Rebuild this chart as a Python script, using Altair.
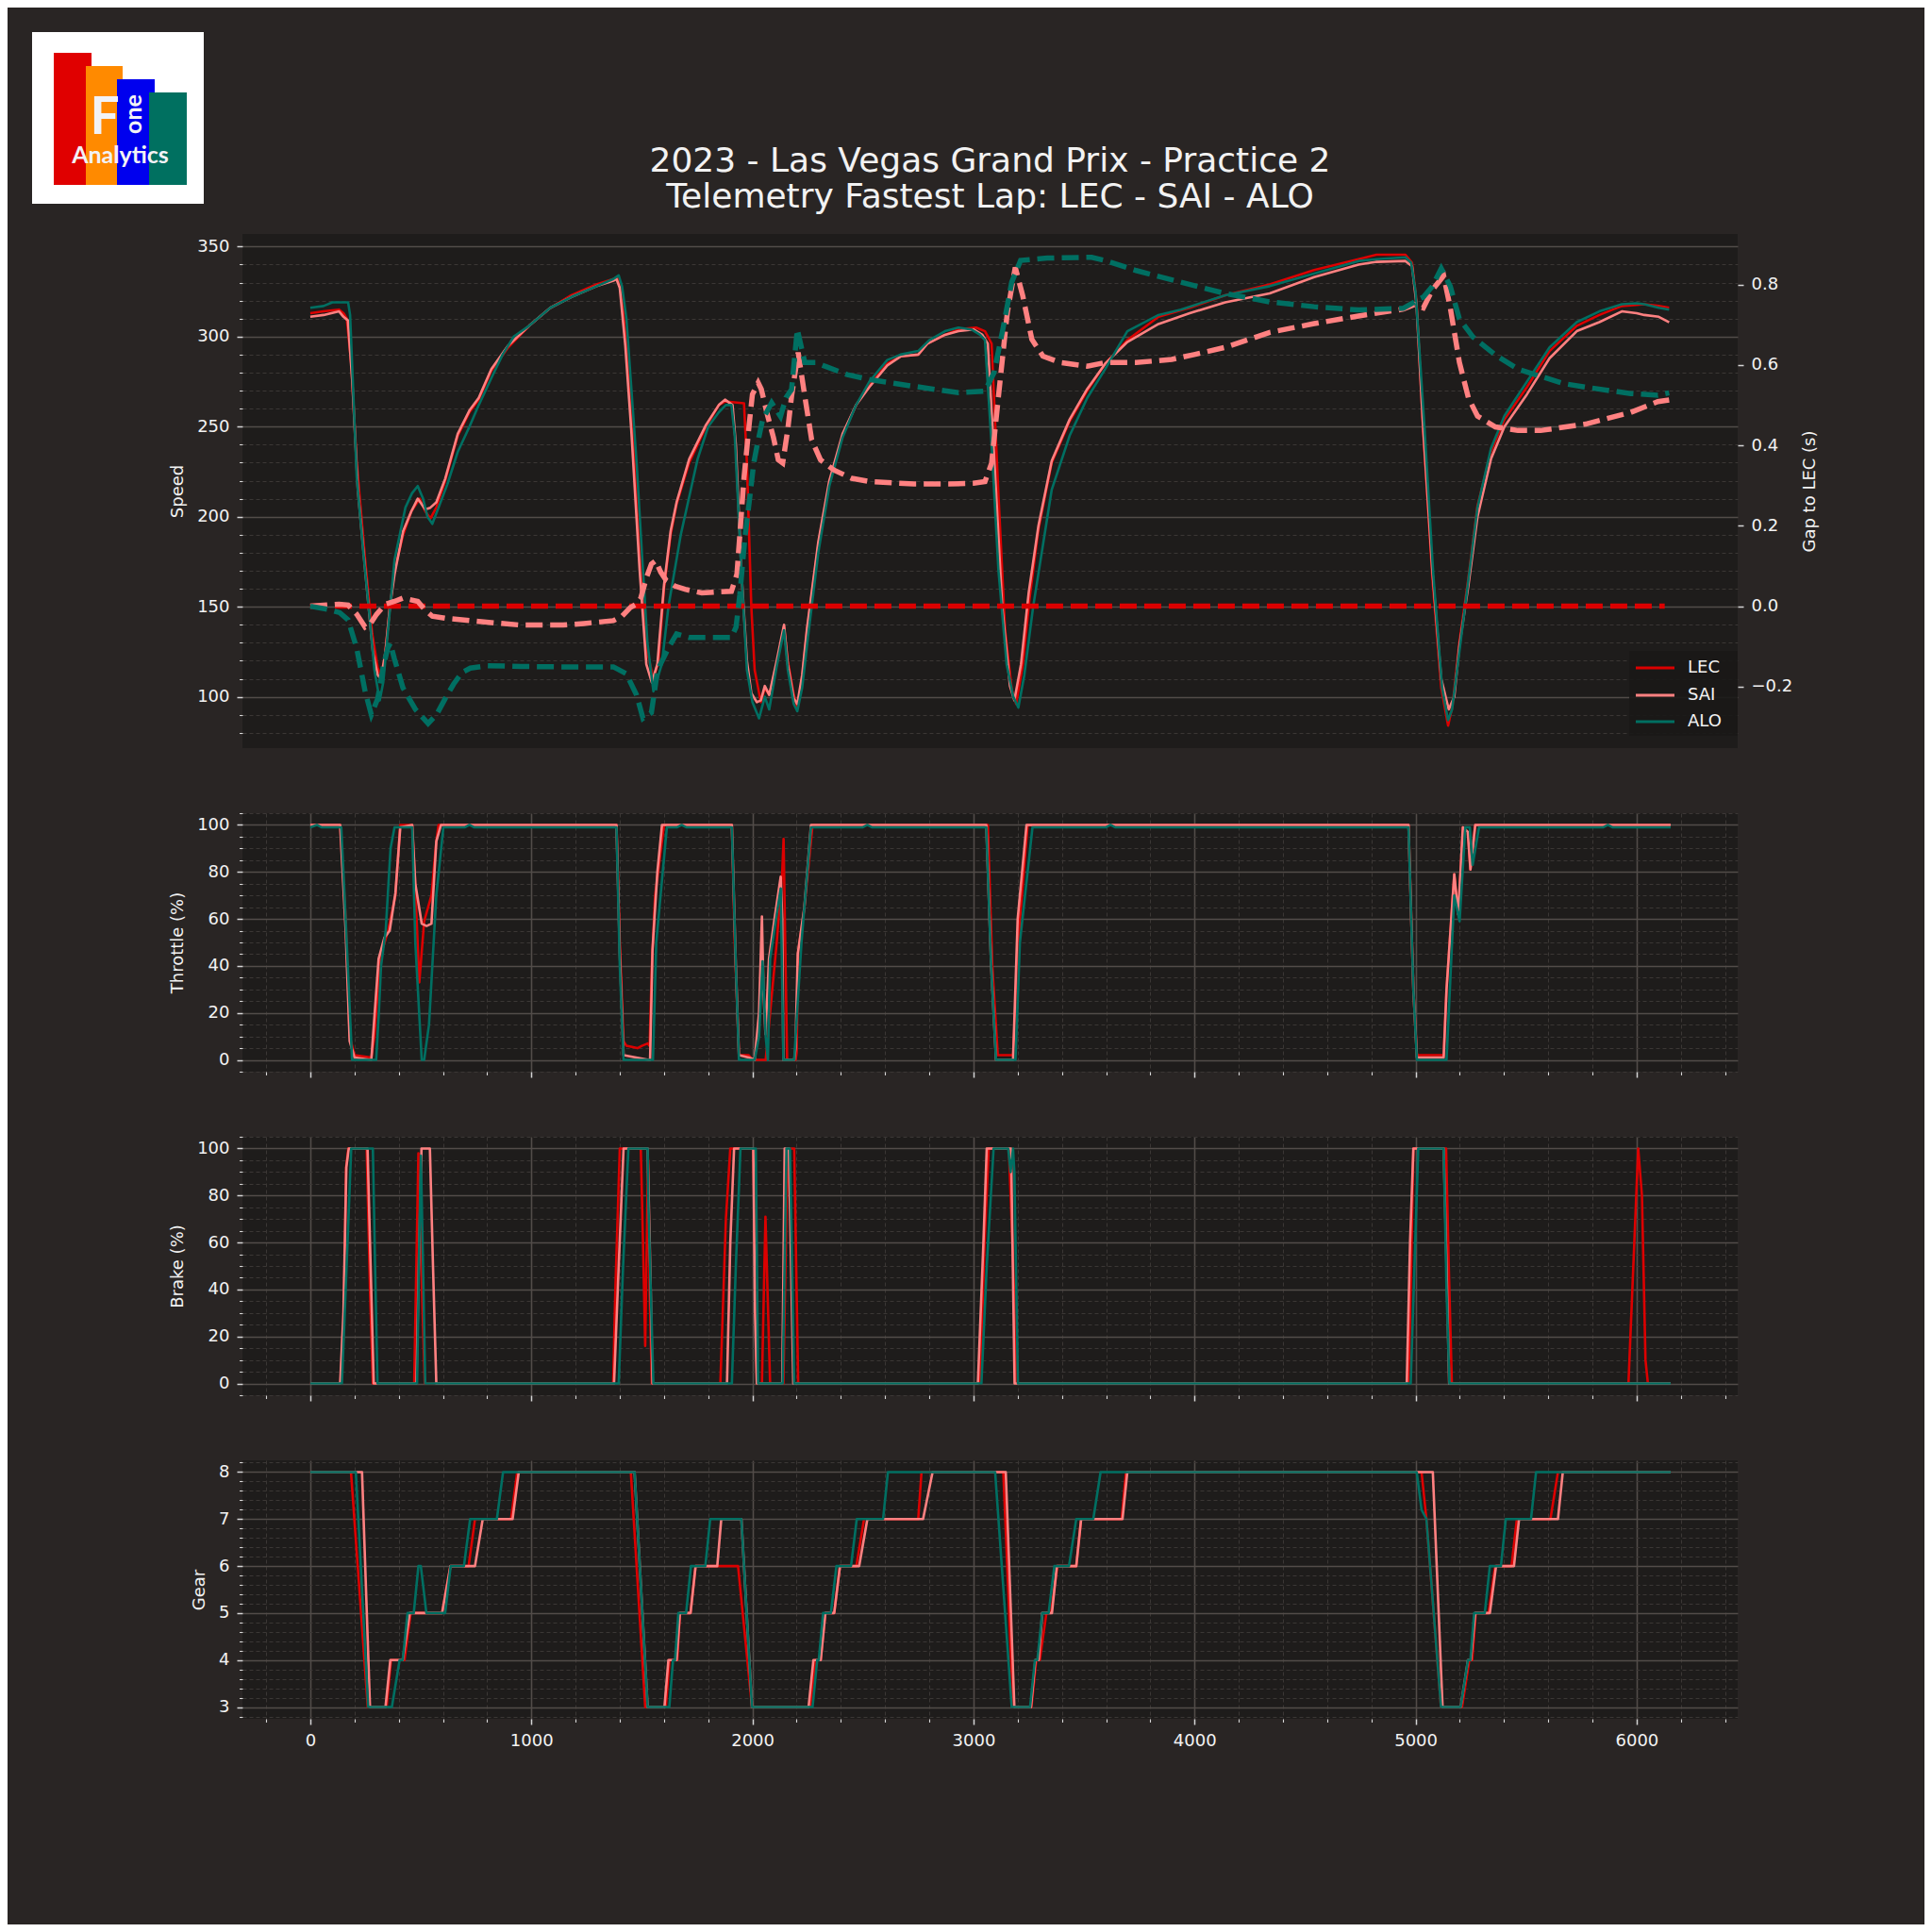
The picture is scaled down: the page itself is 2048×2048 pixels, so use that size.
import altair as alt
import pandas as pd

# ---------------- styling constants ----------------
BG = "#292524"
PLOT_BG = "#1e1c1b"
GRID_MAJOR = "#524c49"
GRID_MINOR = "#3b3735"
TEXT = "#f2f2f2"
FONT = "DejaVu Sans"

# ---------------- categories / labels ----------------
DRIVERS = ["LEC", "SAI", "ALO"]
DRIVER_COLORS = ["#dc0000", "#ff8181", "#006f62"]
TITLE_LINES = ["2023 - Las Vegas Grand Prix - Practice 2",
               "Telemetry Fastest Lap: LEC - SAI - ALO"]
LOGO_WORDS = ["F", "one", "Analytics"]

X_TICKS = list(range(-200, 6401, 200))
SPEED_TICKS = list(range(80, 351, 10))
GAP_TICKS = [-0.2, 0.0, 0.2, 0.4, 0.6, 0.8]
PCT_TICKS = list(range(-5, 106, 5))
GEAR_TICKS = [2.8, 3.0, 3.2, 3.4, 3.6, 3.8, 4.0, 4.2, 4.4, 4.6, 4.8, 5.0, 5.2, 5.4,
              5.6, 5.8, 6.0, 6.2, 6.4, 6.6, 6.8, 7.0, 7.2, 7.4, 7.6, 7.8, 8.0, 8.2]

# ---------------- data: (distance, value) ----------------
LEC_SPEED = [(0, 313), (60, 314), (130, 315), (150, 313), (165, 310), (185, 285), (210, 230),
             (248, 176), (280, 135), (305, 116), (318, 112), (335, 120), (360, 150), (381, 170),
             (420, 190), (457, 203), (495, 210), (520, 203), (543, 199), (570, 205), (610, 220),
             (667, 245), (720, 258), (762, 265), (819, 281), (895, 294), (990, 306), (1086, 316),
             (1181, 323), (1295, 329), (1371, 332), (1390, 333), (1405, 328), (1430, 295),
             (1457, 250), (1490, 180), (1524, 125), (1552, 110), (1575, 120), (1600, 160),
             (1630, 190), (1657, 207), (1714, 230), (1790, 250), (1848, 262), (1876, 264),
             (1962, 263), (1975, 230), (1995, 150), (2010, 115), (2038, 97), (2056, 105),
             (2076, 101), (2110, 118), (2143, 139), (2160, 120), (2187, 101), (2203, 94),
             (2225, 110), (2247, 137), (2298, 184), (2348, 219), (2408, 245), (2469, 262),
             (2529, 273), (2610, 285), (2670, 289), (2750, 290), (2791, 296), (2871, 301),
             (2932, 304), (3012, 305), (3052, 303), (3082, 296), (3113, 212), (3143, 137),
             (3173, 104), (3193, 96), (3223, 118), (3254, 155), (3294, 193), (3354, 230),
             (3435, 253), (3515, 270), (3596, 285), (3696, 298), (3837, 311), (3978, 316),
             (4139, 323), (4340, 329), (4541, 337), (4742, 343), (4823, 345.5), (4954, 345.5),
             (4984, 341), (5004, 320), (5035, 246), (5076, 166), (5116, 105), (5147, 84),
             (5167, 95), (5198, 130), (5239, 166), (5280, 206), (5341, 236), (5402, 254),
             (5504, 272), (5606, 292), (5729, 306), (5831, 312), (5933, 317), (6035, 318),
             (6100, 317), (6147, 316)]
SAI_SPEED = [(0, 311), (60, 312), (130, 314), (150, 311), (170, 309), (190, 275), (215, 215),
             (250, 168), (283, 125), (305, 112), (320, 110), (340, 125), (360, 150), (381, 168),
             (420, 192), (457, 203), (486, 210), (520, 204), (543, 205), (570, 208), (610, 221),
             (667, 246), (720, 259), (762, 266), (819, 282), (895, 295), (990, 306), (1086, 316),
             (1181, 322), (1295, 328), (1371, 331), (1385, 332), (1400, 327), (1425, 295),
             (1452, 248), (1490, 170), (1520, 118), (1545, 108), (1570, 118), (1600, 162),
             (1630, 192), (1657, 208), (1714, 232), (1790, 251), (1848, 262), (1876, 265),
             (1910, 262), (1925, 240), (1950, 170), (1975, 120), (1995, 102), (2020, 97),
             (2038, 98), (2056, 106), (2076, 101), (2110, 120), (2143, 140), (2160, 118),
             (2187, 99), (2203, 96), (2225, 112), (2247, 138), (2298, 186), (2348, 220),
             (2408, 246), (2469, 262), (2529, 272), (2610, 284), (2670, 289), (2750, 290),
             (2791, 296), (2871, 301), (2932, 303), (3000, 304), (3040, 301), (3065, 296),
             (3095, 230), (3130, 150), (3165, 106), (3185, 98), (3215, 118), (3250, 158),
             (3294, 195), (3354, 231), (3435, 254), (3515, 271), (3596, 285), (3696, 297),
             (3837, 307), (3978, 313), (4139, 319), (4340, 324), (4541, 333), (4742, 340),
             (4823, 341.5), (4954, 342), (4984, 339), (5004, 318), (5035, 248), (5076, 170),
             (5116, 110), (5150, 93), (5175, 100), (5198, 128), (5239, 162), (5280, 200),
             (5341, 232), (5402, 250), (5504, 268), (5606, 288), (5729, 303), (5831, 308),
             (5933, 314), (6000, 313), (6035, 312), (6100, 311), (6147, 308)]
ALO_SPEED = [(0, 316), (60, 317), (100, 319), (171, 319), (180, 312), (210, 222), (240, 180),
             (267, 146), (290, 115), (314, 98), (330, 108), (350, 135), (381, 176), (430, 205),
             (460, 213), (486, 217), (510, 210), (530, 200), (552, 196), (580, 205), (620, 218),
             (667, 236), (720, 250), (762, 262), (819, 277), (870, 290), (920, 300), (990, 306),
             (1086, 316), (1181, 322), (1295, 328), (1371, 332), (1395, 334), (1410, 328),
             (1430, 310), (1476, 230), (1500, 180), (1525, 130), (1552, 103), (1570, 110),
             (1590, 118), (1620, 150), (1676, 190), (1752, 232), (1800, 250), (1848, 258),
             (1880, 262), (1905, 262), (1920, 245), (1950, 170), (1975, 115), (2000, 97),
             (2030, 88), (2056, 100), (2076, 93), (2110, 117), (2143, 137), (2160, 115),
             (2187, 96), (2203, 92), (2225, 105), (2250, 132), (2298, 180), (2348, 217),
             (2408, 244), (2469, 262), (2529, 275), (2610, 287), (2670, 290), (2750, 292),
             (2800, 298), (2871, 303), (2932, 305), (2990, 304), (3030, 301), (3052, 298),
             (3082, 240), (3113, 170), (3150, 118), (3180, 100), (3203, 94), (3230, 112),
             (3270, 150), (3310, 181), (3354, 215), (3435, 245), (3515, 266), (3596, 282),
             (3696, 303), (3837, 312), (3938, 315), (4139, 323), (4340, 328), (4541, 335),
             (4742, 342), (4823, 343), (4954, 344), (4980, 341), (5000, 325), (5040, 250),
             (5080, 168), (5120, 105), (5147, 87), (5165, 93), (5198, 125), (5239, 165),
             (5280, 205), (5341, 238), (5402, 256), (5504, 275), (5606, 294), (5729, 308),
             (5831, 314), (5933, 318), (6000, 318.5), (6035, 318), (6100, 316), (6147, 315)]

LEC_GAP = [(0, 0.0), (6127, 0.0)]
SAI_GAP = [(0, 0.0), (80, 0.003), (130, 0.005), (171, 0.003), (210, -0.02), (248, -0.052),
           (270, -0.045), (300, -0.02), (340, 0.005), (381, 0.012), (419, 0.02), (486, 0.012),
           (520, -0.01), (552, -0.025), (610, -0.03), (762, -0.038), (952, -0.047),
           (1143, -0.047), (1238, -0.043), (1371, -0.036), (1410, -0.025), (1448, -0.003),
           (1475, 0.005), (1495, 0.02), (1520, 0.07), (1543, 0.105), (1562, 0.113),
           (1585, 0.085), (1610, 0.064), (1650, 0.05), (1695, 0.042), (1771, 0.033),
           (1850, 0.036), (1905, 0.037), (1930, 0.08), (1962, 0.32), (1985, 0.45),
           (2000, 0.527), (2026, 0.556), (2040, 0.54), (2066, 0.48), (2095, 0.42),
           (2117, 0.364), (2137, 0.356), (2160, 0.44), (2177, 0.522), (2207, 0.631),
           (2237, 0.522), (2268, 0.414), (2308, 0.364), (2368, 0.339), (2449, 0.318),
           (2529, 0.31), (2730, 0.304), (2891, 0.304), (3000, 0.306), (3052, 0.31),
           (3082, 0.356), (3113, 0.522), (3153, 0.73), (3189, 0.843), (3223, 0.772),
           (3264, 0.664), (3314, 0.622), (3394, 0.606), (3515, 0.597), (3596, 0.606),
           (3736, 0.606), (3897, 0.614), (3998, 0.626), (4139, 0.644), (4340, 0.681),
           (4541, 0.703), (4742, 0.722), (4944, 0.739), (4994, 0.75), (5035, 0.742),
           (5076, 0.787), (5127, 0.822), (5157, 0.742), (5198, 0.607), (5239, 0.518),
           (5280, 0.473), (5361, 0.446), (5463, 0.437), (5565, 0.437), (5769, 0.453),
           (5973, 0.482), (6096, 0.509), (6147, 0.513)]
ALO_GAP = [(0, 0.0), (80, -0.008), (133, -0.016), (171, -0.034), (210, -0.105), (248, -0.212),
           (276, -0.27), (305, -0.23), (330, -0.15), (350, -0.105), (362, -0.092),
           (380, -0.13), (419, -0.203), (476, -0.257), (533, -0.292), (571, -0.27),
           (610, -0.23), (648, -0.194), (686, -0.165), (724, -0.154), (800, -0.148),
           (952, -0.15), (1143, -0.151), (1371, -0.151), (1429, -0.168), (1476, -0.221),
           (1505, -0.279), (1543, -0.265), (1571, -0.159), (1619, -0.105), (1657, -0.069),
           (1714, -0.078), (1905, -0.078), (1926, -0.052), (1943, 0.029), (1966, 0.17),
           (1990, 0.28), (2006, 0.356), (2019, 0.394), (2046, 0.464), (2087, 0.506),
           (2127, 0.472), (2152, 0.519), (2177, 0.539), (2203, 0.689), (2237, 0.606),
           (2288, 0.606), (2328, 0.597), (2429, 0.576), (2529, 0.564), (2730, 0.547),
           (2932, 0.531), (3052, 0.535), (3093, 0.581), (3133, 0.689), (3173, 0.806),
           (3213, 0.86), (3334, 0.866), (3535, 0.868), (3596, 0.86), (3736, 0.835),
           (3938, 0.806), (4139, 0.778), (4340, 0.757), (4541, 0.745), (4742, 0.737),
           (4944, 0.741), (5004, 0.76), (5035, 0.769), (5076, 0.796), (5116, 0.84),
           (5157, 0.796), (5198, 0.715), (5259, 0.67), (5361, 0.625), (5463, 0.59),
           (5565, 0.572), (5667, 0.554), (5769, 0.545), (5973, 0.529), (6096, 0.525),
           (6147, 0.531)]

LEC_THROTTLE = [(0, 100), (135, 100), (160, 60), (178, 10), (200, 2), (276, 1), (290, 10),
                (298, 20), (320, 45), (352, 55), (385, 70), (407, 100), (461, 100), (472, 80),
                (493, 33), (515, 59), (548, 70), (570, 93), (580, 100), (1385, 100),
                (1400, 50), (1417, 8), (1430, 6), (1480, 5), (1500, 6), (1526, 7), (1535, 6),
                (1545, 40), (1560, 70), (1600, 100), (1907, 100), (1920, 50), (1939, 2),
                (1983, 2), (2000, 0), (2060, 0), (2080, 20), (2110, 50), (2135, 80),
                (2141, 94), (2150, 40), (2157, 0), (2195, 0), (2200, 3), (2207, 46),
                (2233, 63), (2272, 100), (3065, 100), (3085, 40), (3110, 2), (3179, 2),
                (3210, 60), (3245, 100), (4968, 100), (4990, 30), (5006, 2), (5127, 2),
                (5140, 30), (5175, 79), (5193, 62), (5214, 99), (5236, 97), (5248, 81),
                (5270, 100), (6154, 100)]
SAI_THROTTLE = [(0, 100), (135, 100), (160, 55), (178, 8), (200, 1), (276, 0), (309, 43),
                (335, 52), (359, 55), (385, 71), (407, 99), (461, 100), (475, 75), (504, 58),
                (526, 57), (548, 58), (570, 93), (591, 100), (1385, 100), (1400, 45),
                (1417, 2), (1530, 0), (1537, 0), (1548, 47), (1570, 80), (1591, 100),
                (1907, 100), (1925, 40), (1939, 2), (1983, 1), (2010, 0), (2030, 20),
                (2043, 61), (2050, 30), (2059, 11), (2075, 43), (2100, 60), (2128, 78),
                (2135, 60), (2140, 0), (2189, 0), (2195, 5), (2205, 45), (2235, 65),
                (2265, 100), (3058, 100), (3080, 40), (3102, 0), (3179, 0), (3200, 60),
                (3240, 100), (4968, 100), (4990, 30), (5006, 1), (5127, 1), (5140, 30),
                (5175, 79), (5193, 62), (5214, 99), (5236, 97), (5248, 81), (5270, 100),
                (6154, 100)]
ALO_THROTTLE = [(0, 99), (30, 100), (50, 99), (140, 99), (155, 70), (189, 0), (298, 0),
                (310, 20), (320, 40), (341, 55), (363, 90), (381, 99), (461, 99), (475, 50),
                (504, 0), (515, 0), (537, 15), (570, 70), (602, 99), (700, 99), (720, 100),
                (740, 99), (1385, 99), (1400, 40), (1417, 0), (1550, 0), (1565, 50),
                (1613, 99), (1660, 99), (1680, 100), (1700, 99), (1907, 99), (1925, 40),
                (1939, 0), (2010, 0), (2030, 10), (2046, 42), (2060, 10), (2070, 0),
                (2080, 43), (2110, 62), (2128, 73), (2140, 0), (2189, 0), (2200, 17),
                (2222, 50), (2265, 99), (2500, 99), (2520, 100), (2540, 99), (3058, 99),
                (3080, 40), (3102, 0), (3190, 0), (3210, 50), (3267, 99), (3600, 99),
                (3620, 100), (3640, 99), (4968, 99), (4990, 30), (5006, 0), (5140, 0),
                (5175, 70), (5199, 59), (5225, 99), (5245, 99), (5258, 83), (5287, 99),
                (5850, 99), (5870, 100), (5890, 99), (6154, 99)]

LEC_BRAKE = [(0, 0), (140, 0), (150, 20), (162, 92), (172, 100), (255, 100), (270, 40),
             (283, 0), (470, 0), (489, 98), (505, 40), (518, 0), (1370, 0), (1380, 40),
             (1400, 100), (1495, 100), (1505, 60), (1515, 16), (1522, 60), (1528, 95),
             (1535, 40), (1545, 0), (1855, 0), (1880, 70), (1900, 100), (2004, 100),
             (2020, 0), (2043, 0), (2059, 71), (2080, 0), (2140, 0), (2155, 80), (2167, 100),
             (2189, 100), (2207, 0), (3030, 0), (3050, 60), (3069, 100), (3160, 100),
             (3180, 50), (3195, 0), (4968, 0), (4980, 50), (4990, 100), (5138, 100),
             (5150, 50), (5164, 0), (5963, 0), (6007, 100), (6024, 80), (6040, 10),
             (6051, 0), (6154, 0)]
SAI_BRAKE = [(0, 0), (135, 0), (150, 30), (163, 92), (174, 100), (259, 100), (270, 60),
             (287, 0), (480, 0), (493, 60), (503, 100), (541, 100), (555, 50), (570, 0),
             (1374, 0), (1395, 50), (1417, 100), (1526, 100), (1540, 40), (1548, 0),
             (1885, 0), (1900, 60), (1917, 100), (2004, 100), (2012, 30), (2020, 0),
             (2135, 0), (2146, 100), (2165, 100), (2185, 0), (3020, 0), (3045, 60),
             (3060, 100), (3170, 100), (3178, 50), (3186, 0), (4960, 0), (4975, 60),
             (4990, 100), (5127, 100), (5140, 50), (5152, 0), (6154, 0)]
ALO_BRAKE = [(0, 0), (143, 0), (160, 40), (185, 100), (283, 100), (293, 50), (304, 0),
             (483, 0), (493, 60), (500, 97), (510, 50), (520, 0), (1395, 0), (1415, 50),
             (1439, 100), (1526, 100), (1530, 75), (1540, 40), (1552, 0), (1907, 0),
             (1925, 50), (1946, 100), (2015, 100), (2026, 0), (2137, 0), (2154, 100),
             (2170, 100), (2189, 0), (3036, 0), (3060, 50), (3091, 100), (3157, 100),
             (3168, 90), (3179, 100), (3185, 90), (3201, 0), (4978, 0), (4995, 50),
             (5012, 100), (5127, 100), (5140, 40), (5153, 0), (6154, 0)]

LEC_GEAR = [(0, 8), (184, 8), (260, 3), (345, 3), (365, 4), (426, 4), (454, 5), (596, 5),
            (634, 6), (716, 6), (745, 7), (908, 7), (936, 8), (1450, 8), (1515, 3),
            (1608, 3), (1625, 4), (1660, 4), (1672, 5), (1720, 5), (1743, 6), (1935, 6),
            (1998, 3), (2262, 3), (2285, 4), (2309, 4), (2330, 5), (2370, 5), (2396, 6),
            (2470, 6), (2505, 7), (2750, 7), (2765, 8), (3135, 8), (3179, 3), (3262, 3),
            (3284, 4), (3300, 4), (3330, 5), (3350, 5), (3380, 6), (3465, 6), (3487, 7),
            (3670, 7), (3690, 8), (5027, 8), (5049, 7), (5115, 3), (5210, 3), (5243, 4),
            (5256, 4), (5272, 5), (5330, 5), (5360, 6), (5434, 6), (5458, 7), (5610, 7),
            (5644, 8), (6154, 8)]
SAI_GEAR = [(0, 8), (234, 8), (270, 3), (340, 3), (362, 4), (418, 4), (450, 5), (596, 5),
            (634, 6), (745, 6), (780, 7), (915, 7), (943, 8), (1467, 8), (1526, 3),
            (1602, 3), (1620, 4), (1657, 4), (1672, 5), (1720, 5), (1743, 6), (1841, 6),
            (1859, 7), (1950, 7), (1998, 3), (2254, 3), (2276, 4), (2309, 4), (2330, 5),
            (2370, 5), (2396, 6), (2483, 6), (2520, 7), (2772, 7), (2815, 8), (3146, 8),
            (3185, 3), (3260, 3), (3280, 4), (3295, 4), (3311, 5), (3355, 5), (3377, 6),
            (3465, 6), (3487, 7), (3674, 7), (3696, 8), (5078, 8), (5122, 3), (5204, 3),
            (5237, 4), (5250, 4), (5270, 5), (5336, 5), (5364, 6), (5445, 6), (5468, 7),
            (5644, 7), (5666, 8), (6154, 8)]
ALO_GEAR = [(0, 8), (206, 8), (262, 3), (369, 3), (404, 4), (418, 4), (440, 5), (468, 5),
            (489, 6), (500, 6), (525, 5), (610, 5), (635, 6), (695, 6), (723, 7), (844, 7),
            (872, 8), (1467, 8), (1526, 3), (1624, 3), (1641, 4), (1650, 4), (1665, 5),
            (1700, 5), (1722, 6), (1787, 6), (1809, 7), (1950, 7), (1998, 3), (2272, 3),
            (2293, 4), (2300, 4), (2320, 5), (2355, 5), (2380, 6), (2446, 6), (2472, 7),
            (2591, 7), (2613, 8), (3098, 8), (3173, 3), (3256, 3), (3278, 4), (3289, 4),
            (3311, 5), (3340, 5), (3366, 6), (3432, 6), (3465, 7), (3542, 7), (3575, 8),
            (5005, 8), (5027, 7.2), (5049, 7), (5115, 3), (5204, 3), (5237, 4), (5248, 4),
            (5265, 5), (5313, 5), (5336, 6), (5386, 6), (5408, 7), (5522, 7), (5545, 8),
            (6154, 8)]


def long_df(series, name):
    rows = []
    for drv, pts in zip(DRIVERS, series):
        for d, v in pts:
            rows.append({"driver": drv, "distance": d, name: v})
    return pd.DataFrame(rows)


speed_df = long_df([LEC_SPEED, SAI_SPEED, ALO_SPEED], "speed")
gap_df = long_df([LEC_GAP, SAI_GAP, ALO_GAP], "gap")
thr_df = long_df([LEC_THROTTLE, SAI_THROTTLE, ALO_THROTTLE], "throttle")
brk_df = long_df([LEC_BRAKE, SAI_BRAKE, ALO_BRAKE], "brake")
gear_df = long_df([LEC_GEAR, SAI_GEAR, ALO_GEAR], "gear")

# ---------------- layout (pixels) ----------------
W = 1585
H_TOP, H_SUB = 545, 274


def cond(test, a, b):
    return {"condition": {"test": test, "value": a}, "value": b}


def make_axis(values, test, fmt, title=None, labels=True, title_padding=11):
    return alt.Axis(
        values=values, format=fmt, title=title, labels=labels,
        tickCount=500, tickMinStep=0.01,
        labelExpr=f"({test}) ? datum.label : ''",
        tickSize=cond(test, 6, 3.5), tickWidth=cond(test, 1.5, 1.1),
        grid=True, gridColor=cond(test, GRID_MAJOR, GRID_MINOR),
        gridDash=cond(test, [], [4, 3]), gridWidth=cond(test, 1.6, 1.0),
        labelOverlap=False, labelFlush=False, labelPadding=8,
        titlePadding=title_padding, domain=False,
    )


X_TEST = "datum.value % 1000 === 0"
x_scale = alt.Scale(domain=[-307, 6457], nice=False, zero=False)
color = alt.Color("driver:N", scale=alt.Scale(domain=DRIVERS, range=DRIVER_COLORS),
                  legend=None)


def x_enc(labels):
    return alt.X("distance:Q", scale=x_scale, axis=make_axis(X_TICKS, X_TEST, "d", labels=labels))


line_kw = dict(strokeWidth=2.6, strokeJoin="round")

speed = alt.Chart(speed_df).mark_line(**line_kw).encode(
    x=x_enc(False),
    y=alt.Y("speed:Q", scale=alt.Scale(domain=[71.5, 357], nice=False, zero=False),
            axis=make_axis(SPEED_TICKS, "datum.value % 50 === 0", "d", title="Speed")),
    color=color,
)
gap = alt.Chart(gap_df).mark_line(strokeWidth=5.5, strokeDash=[18, 8], strokeCap="butt").encode(
    x=alt.X("distance:Q", scale=x_scale, axis=None),
    y=alt.Y("gap:Q", scale=alt.Scale(domain=[-0.353, 0.926], nice=False, zero=False),
            axis=alt.Axis(orient="right", values=GAP_TICKS, format=".1f", title="Gap to LEC (s)",
                          tickCount=50, grid=False, tickSize=6, tickWidth=1.5, labelPadding=8,
                          titlePadding=10, titleAngle=270, titleBaseline="top", domain=False,
                          labelOverlap=False, labelFlush=False)),
    color=color,
)

# --- logo / title / legend decorations (pixel space of the top panel) ---
logo_df = pd.DataFrame({
    "x": [-223, -200, -166, -133, -99], "x2": [-41, -160, -127, -93, -59],
    "y": [-214, -192, -178, -164, -150], "y2": [-32, -52, -52, -52, -52],
    "fill": ["#ffffff", "#e00000", "#ff8a00", "#0000ee", "#007060"],
})
logo = alt.Chart(logo_df).mark_rect().encode(
    x=alt.X("x:Q", scale=None, axis=None), x2="x2:Q",
    y=alt.Y("y:Q", scale=None, axis=None), y2="y2:Q",
    fill=alt.Fill("fill:N", scale=None, legend=None),
)
logo_text_df = pd.DataFrame({
    "x": [-146, -107, -129.5], "y": [-106, -127, -75],
    "text": LOGO_WORDS, "size": [55, 25, 25], "angle": [0, 270, 0],
})
logo_text = alt.Chart(logo_text_df).mark_text(
    font="Lato", fontWeight="bold", align="center", baseline="alphabetic", color="#f2f2f6"
).encode(
    x=alt.X("x:Q", scale=None, axis=None), y=alt.Y("y:Q", scale=None, axis=None),
    text="text:N", size=alt.Size("size:Q", scale=None, legend=None),
    angle=alt.Angle("angle:Q", scale=None),
)
title_df = pd.DataFrame({"x": [W / 2, W / 2], "y": [-77, -39], "text": TITLE_LINES})
title = alt.Chart(title_df).mark_text(
    font=FONT, fontSize=36, align="center", baseline="middle", color=TEXT
).encode(x=alt.X("x:Q", scale=None, axis=None), y=alt.Y("y:Q", scale=None, axis=None),
         text="text:N")

legend_box = alt.Chart(pd.DataFrame({"x": [1470], "x2": [1585], "y": [442], "y2": [532]})).mark_rect(
    fill="#1a1817", opacity=0.9
).encode(x=alt.X("x:Q", scale=None, axis=None), x2="x2:Q",
         y=alt.Y("y:Q", scale=None, axis=None), y2="y2:Q")
legend_df = pd.DataFrame({"driver": DRIVERS, "c": DRIVER_COLORS,
                          "x": [1477] * 3, "x2": [1518] * 3, "tx": [1532] * 3,
                          "y": [460, 489, 517]})
legend_lines = alt.Chart(legend_df).mark_rule(strokeWidth=3).encode(
    x=alt.X("x:Q", scale=None, axis=None), x2="x2:Q",
    y=alt.Y("y:Q", scale=None, axis=None),
    stroke=alt.Stroke("c:N", scale=None, legend=None),
)
legend_text = alt.Chart(legend_df).mark_text(
    font=FONT, fontSize=18, align="left", baseline="middle", color=TEXT
).encode(x=alt.X("tx:Q", scale=None, axis=None), y=alt.Y("y:Q", scale=None, axis=None),
         text="driver:N")
corner = alt.Chart(pd.DataFrame({"x": [1781], "x2": [1783], "y": [1790], "y2": [1792]})).mark_rect(
    fill=BG
).encode(x=alt.X("x:Q", scale=None, axis=None), x2="x2:Q",
         y=alt.Y("y:Q", scale=None, axis=None), y2="y2:Q")

top = alt.layer(speed, gap, logo, logo_text, title, legend_box, legend_lines, legend_text,
                corner).resolve_scale(y="independent").properties(width=W, height=H_TOP)

PCT_TEST = "datum.value % 20 === 0"
thr = alt.Chart(thr_df).mark_line(**line_kw).encode(
    x=x_enc(False),
    y=alt.Y("throttle:Q", scale=alt.Scale(domain=[-5, 105], nice=False, zero=False),
            axis=make_axis(PCT_TICKS, PCT_TEST, "d", title="Throttle (%)")),
    color=color,
).properties(width=W, height=H_SUB)

brk = alt.Chart(brk_df).mark_line(**line_kw).encode(
    x=x_enc(False),
    y=alt.Y("brake:Q", scale=alt.Scale(domain=[-5, 105], nice=False, zero=False),
            axis=make_axis(PCT_TICKS, PCT_TEST, "d", title="Brake (%)")),
    color=color,
).properties(width=W, height=H_SUB)

gear = alt.Chart(gear_df).mark_line(**line_kw).encode(
    x=x_enc(True),
    y=alt.Y("gear:Q", scale=alt.Scale(domain=[2.75, 8.25], nice=False, zero=False),
            axis=make_axis(GEAR_TICKS, "abs(datum.value - round(datum.value)) < 0.001", ".0f",
                           title="Gear")),
    color=color,
).properties(width=W, height=H_SUB)

chart = alt.vconcat(top, thr, brk, gear, spacing=69, bounds="flush").properties(
    padding={"left": 26, "top": 26, "right": 0, "bottom": 0},
    background=BG,
).configure_view(fill=PLOT_BG, stroke=None).configure_axis(
    labelColor=TEXT, titleColor=TEXT, labelFont=FONT, titleFont=FONT,
    labelFontSize=18, titleFontSize=18, titleFontWeight="normal", tickColor="#d6d6d6",
)

chart.save("out.html", embed_options={"renderer": "svg", "actions": False})
